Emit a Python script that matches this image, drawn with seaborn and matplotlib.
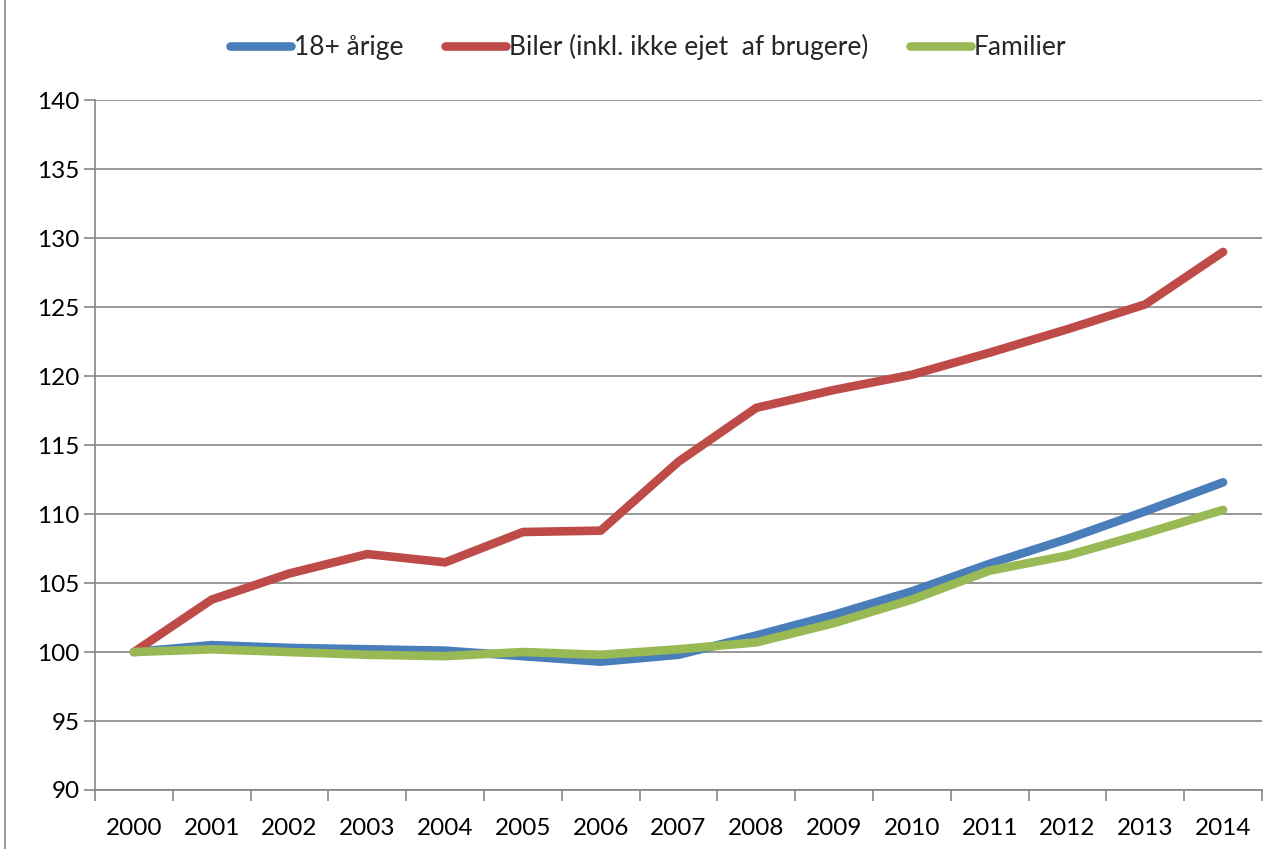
import matplotlib
matplotlib.use("Agg")
import matplotlib.pyplot as plt
import seaborn as sns
import pandas as pd
import numpy as np
from matplotlib.ticker import FixedLocator, NullFormatter

years = ["2000", "2001", "2002", "2003", "2004", "2005", "2006", "2007",
         "2008", "2009", "2010", "2011", "2012", "2013", "2014"]
adults = [100.0, 100.5, 100.3, 100.2, 100.1, 99.7, 99.3, 99.8, 101.2,
          102.7, 104.4, 106.4, 108.2, 110.2, 112.3]
cars = [100.0, 103.8, 105.7, 107.1, 106.5, 108.7, 108.8, 113.8, 117.7,
        119.0, 120.1, 121.7, 123.4, 125.2, 129.0]
families = [100.0, 100.2, 100.0, 99.8, 99.7, 100.0, 99.8, 100.2, 100.7,
            102.1, 103.8, 105.9, 107.0, 108.6, 110.3]
series_names = ["18+ årige", "Biler (inkl. ikke ejet  af brugere)", "Familier"]
colors = ["#4a7ebb", "#be4b48", "#98b954"]

sns.set_theme(style="white")
plt.rcParams['font.family'] = ['Lato', 'DejaVu Sans']

rows = []
for name, vals in zip(series_names, [adults, cars, families]):
    for i, v in enumerate(vals):
        rows.append({"idx": i, "year": years[i], "value": v, "serie": name})
df = pd.DataFrame(rows)

fig = plt.figure(figsize=(12.76, 8.49), dpi=100)
ax = fig.add_axes([0.0745, 0.0695, 0.9145, 0.8125])

sns.lineplot(data=df, x="idx", y="value", hue="serie", hue_order=series_names,
             palette=colors, linewidth=6.2, ax=ax, legend=False,
             solid_capstyle="round", solid_joinstyle="round")

ax.set_xlim(-0.5, len(years) - 0.5)
ax.set_ylim(90, 140)
ax.set_yticks(np.arange(90, 141, 5))
ax.set_xticks(range(len(years)))
ax.set_xticklabels(years)
ax.xaxis.set_minor_locator(FixedLocator(np.arange(-0.5, len(years), 1.0)))
ax.xaxis.set_minor_formatter(NullFormatter())
ax.tick_params(axis="x", which="major", length=0, pad=20, labelsize=17.5, colors="black")
ax.tick_params(axis="x", which="minor", length=8, width=1.2, color="#868686", bottom=True, direction="out")
ax.tick_params(axis="y", which="major", length=8, width=1.2, color="#868686", left=True,
               direction="out", labelsize=17.5, pad=3, colors="black")
ax.yaxis.grid(True, color="#868686", linewidth=1.2)
ax.set_axisbelow(True)
ax.set_xlabel("")
ax.set_ylabel("")
for side in ["top", "right"]:
    ax.spines[side].set_visible(False)
for side in ["left", "bottom"]:
    ax.spines[side].set_color("#868686")
    ax.spines[side].set_linewidth(1.2)

handles = [plt.Line2D([0], [0], color=c, linewidth=6.2, solid_capstyle="round") for c in colors]
fig.legend(handles, series_names, loc="center", bbox_to_anchor=(0.508, 0.945), ncol=3,
           frameon=False, fontsize=19, handlelength=2.3, handletextpad=0.1,
           columnspacing=1.6)

fig.add_artist(plt.Rectangle((0.004, -0.01), 1.2, 1.2, transform=fig.transFigure,
                             fill=False, edgecolor="#868686", linewidth=1.2))

fig.savefig("out.png", dpi=100)
